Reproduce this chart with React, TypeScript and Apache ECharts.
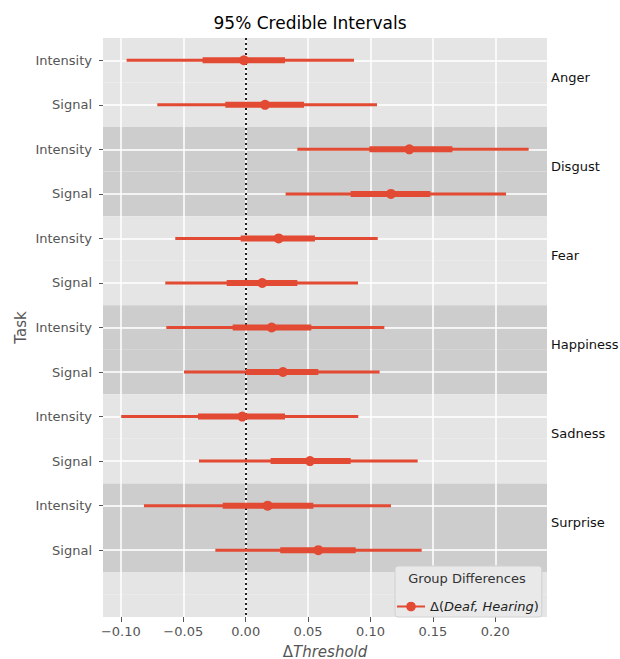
import React, { useEffect, useRef } from "react";
import * as echarts from "echarts";

const emotions = ["Anger", "Disgust", "Fear", "Happiness", "Sadness", "Surprise"];
const tasks = ["Intensity", "Signal"];
// rows: Anger-Intensity, Anger-Signal, Disgust-Intensity, ...
const estimates = [-0.0014, 0.0155, 0.1311, 0.1164, 0.0264, 0.0133, 0.0208, 0.0299, -0.0027, 0.0515, 0.0176, 0.0582];
const outerLow = [-0.0954, -0.0708, 0.0414, 0.032, -0.0564, -0.0644, -0.0636, -0.0494, -0.0997, -0.0374, -0.0815, -0.0243];
const outerHigh = [0.0868, 0.1052, 0.2267, 0.2086, 0.1058, 0.09, 0.1111, 0.1073, 0.0902, 0.1378, 0.1164, 0.141];
const innerLow = [-0.0345, -0.0163, 0.0991, 0.0841, -0.004, -0.0152, -0.0104, 0.0002, -0.0382, 0.02, -0.0184, 0.0277];
const innerHigh = [0.0315, 0.0467, 0.1656, 0.1479, 0.0555, 0.0414, 0.0526, 0.0582, 0.0315, 0.0841, 0.0542, 0.0881];
const xTicks = [-0.1, -0.05, 0, 0.05, 0.1, 0.15, 0.2];
const xMin = -0.1143;
const xMax = 0.2414;
const seriesName = "Δ(Deaf, Hearing)";

const RED = "#E24A33";
const LIGHT = "#E5E5E5";
const DARK = "#CDCDCD";

const rowLabels: string[] = [];
emotions.forEach((e) => tasks.forEach((t) => rowLabels.push(e + "|" + t)));
rowLabels.push("|");

function segRender(width: number) {
  return (params: any, api: any) => {
    const a = api.coord([api.value(0), api.value(2)]);
    const b = api.coord([api.value(1), api.value(2)]);
    return {
      type: "line",
      shape: { x1: a[0], y1: a[1], x2: b[0], y2: b[1] },
      style: { stroke: RED, lineWidth: width, lineCap: "butt" },
    };
  };
}

export default function App() {
  const ref = useRef<HTMLDivElement>(null);
  useEffect(() => {
    if (!ref.current) return;
    const chart = echarts.init(ref.current, undefined, { renderer: "svg" });
    const outerData = outerLow.map((lo, i) => [lo, outerHigh[i], i]);
    const innerData = innerLow.map((lo, i) => [lo, innerHigh[i], i]);
    const pointData = estimates.map((v, i) => [v, i]);
    const fmt = (v: number) => v.toFixed(2).replace("-", "\u2212");
    const areaColors = [LIGHT, LIGHT, LIGHT, LIGHT, DARK, DARK, DARK, DARK];
    // white grid line only at each row (integer positions 0..11)
    const lineColors: string[] = [];
    for (let k = 0; k <= 26; k++) {
      const v = -0.5 + 0.5 * k;
      lineColors.push(Number.isInteger(v) && v >= 0 && v < rowLabels.length - 1 ? "#ffffff" : "rgba(255,255,255,0)");
    }
    chart.setOption({
      animation: false,
      backgroundColor: "#ffffff",
      textStyle: { fontFamily: "DejaVu Sans" },
      title: {
        text: "95% Credible Intervals",
        left: "center",
        top: 14,
        padding: [0, 0, 0, 30],
        textStyle: { fontFamily: "DejaVu Sans", fontSize: 17, fontWeight: "normal", color: "#000" },
      },
      grid: { left: 103, right: 73, top: 38, bottom: 42, containLabel: false, outerBoundsMode: "none" },
      legend: {
        left: 395,
        top: 566,
        padding: [34, 3, 4, 1],
        itemWidth: 28,
        itemHeight: 12,
        backgroundColor: "#E9E9E9",
        borderColor: "#D0D0D0",
        borderWidth: 1,
        borderRadius: 3,
        data: [seriesName],
        lineStyle: { width: 2, color: RED, opacity: 1, type: "solid" },
        formatter: () => "{a|Δ(}{b|Deaf, Hearing}{a|)}",
        textStyle: {
          fontFamily: "DejaVu Sans",
          fontSize: 13,
          color: "#222",
          rich: {
            a: { fontFamily: "DejaVu Sans", fontSize: 13, color: "#222" },
            b: { fontFamily: "DejaVu Sans", fontSize: 13, fontStyle: "italic", color: "#222" },
          },
        },
      },
      graphic: [
        {
          type: "text",
          z: 100,
          x: 467,
          y: 578,
          style: {
            text: "Group Differences",
            fontFamily: "DejaVu Sans",
            fontSize: 13,
            fill: "#333",
            align: "center",
            verticalAlign: "middle",
          },
        },
      ],
      xAxis: {
        type: "value",
        min: xMin,
        max: xMax,
        splitNumber: 7,
        axisLine: { show: false, onZero: false },
        axisTick: { show: true, length: 5, lineStyle: { color: "#555", width: 1 }, customValues: xTicks },
        axisLabel: {
          customValues: xTicks,
          formatter: fmt,
          color: "#555",
          fontSize: 13,
          fontFamily: "DejaVu Sans",
          margin: 8,
        },
        splitLine: { show: true, lineStyle: { color: "#ffffff", width: 1.5 } },
        name: "{a|Δ}{b|Threshold}",
        nameLocation: "middle",
        nameGap: 27,
        nameTextStyle: {
          color: "#555",
          fontSize: 15,
          rich: {
            a: { fontFamily: "DejaVu Sans", fontSize: 15, color: "#555" },
            b: { fontFamily: "DejaVu Sans", fontSize: 15, fontStyle: "italic", color: "#555" },
          },
        },
      },
      yAxis: [
        {
          type: "value",
          min: -0.5,
          max: 12.5,
          interval: 0.5,
          inverse: true,
          axisLine: { show: false, onZero: false },
          axisTick: { show: false },
          axisLabel: { show: false },
          splitLine: { show: true, lineStyle: { color: lineColors, width: 1.5 } },
          splitArea: { show: true, areaStyle: { color: areaColors } },
        },
        {
          type: "category",
          data: rowLabels,
          inverse: true,
          boundaryGap: true,
          position: "left",
          axisLine: { show: false, onZero: false },
          axisTick: {
            show: true,
            alignWithLabel: true,
            length: 4,
            lineStyle: { color: "#555" },
            interval: (_i: number, v: string) => v !== "|",
          },
          axisLabel: {
            interval: 0,
            formatter: (v: string) => v.split("|")[1] || "",
            color: "#555",
            fontSize: 13,
            fontFamily: "DejaVu Sans",
            margin: 11,
          },
          splitLine: { show: false },
          name: "Task",
          nameLocation: "middle",
          nameMoveOverlap: false,
          nameGap: 75,
          nameTextStyle: { color: "#555", fontSize: 15, fontFamily: "DejaVu Sans" },
        },
        {
          type: "value",
          min: -0.5,
          max: 12.5,
          interval: 1,
          inverse: true,
          position: "right",
          axisLine: { show: false, onZero: false },
          axisTick: { show: false },
          splitLine: { show: false },
          axisLabel: {
            color: "#111",
            fontSize: 13,
            fontFamily: "DejaVu Sans",
            margin: 4,
            verticalAlign: "bottom",
            lineHeight: 10,
            formatter: (v: number) => {
              const k = Math.round(v - 0.5);
              if (Math.abs(v - 0.5 - k) > 1e-6) return "";
              if (k < 0 || k % 2 !== 0) return "";
              return emotions[k / 2] || "";
            },
          },
        },
      ],
      series: [
        {
          type: "custom",
          name: "outer",
          renderItem: segRender(3),
          encode: { x: [0, 1], y: 2 },
          data: outerData,
          xAxisIndex: 0,
          yAxisIndex: 0,
          z: 3,
          markLine: {
            silent: true,
            symbol: "none",
            label: { show: false },
            lineStyle: { color: "#222", width: 2, type: [2, 3] },
            data: [{ xAxis: 0 }],
            z: 2,
          },
        },
        {
          type: "custom",
          name: "inner",
          renderItem: segRender(6),
          encode: { x: [0, 1], y: 2 },
          data: innerData,
          xAxisIndex: 0,
          yAxisIndex: 0,
          z: 4,
        },
        {
          type: "line",
          name: seriesName,
          data: pointData,
          xAxisIndex: 0,
          yAxisIndex: 0,
          symbol: "circle",
          symbolSize: 10,
          showSymbol: true,
          lineStyle: { width: 0, opacity: 0 },
          itemStyle: { color: RED },
          z: 5,
        },
      ],
    });
    return () => chart.dispose();
  }, []);
  return <div ref={ref} style={{ position: "absolute", left: 0, top: 0, width: 620, height: 659 }} />;
}
